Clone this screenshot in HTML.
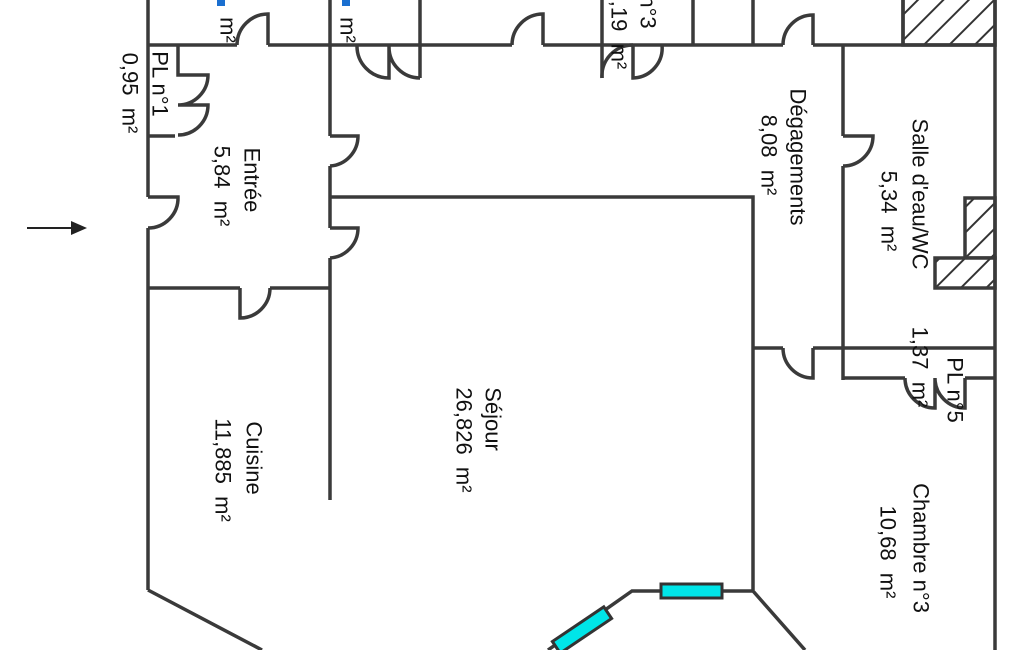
<!DOCTYPE html>
<html><head><meta charset="utf-8"><style>
html,body{margin:0;padding:0;background:#fff;}
svg{display:block}
text{font-family:"Liberation Sans",sans-serif;font-size:22px;fill:#111;dominant-baseline:central;text-anchor:middle;white-space:pre}
</style></head><body>
<svg width="1025" height="650" viewBox="0 0 1025 650" xmlns="http://www.w3.org/2000/svg">
<defs>
<pattern id="h" width="18" height="18" patternUnits="userSpaceOnUse" patternTransform="rotate(45)">
<rect width="18" height="18" fill="#fff"/><line x1="0" y1="0" x2="0" y2="18" stroke="#333" stroke-width="4"/>
</pattern>
</defs>
<g fill="none" stroke="#3a3a3a" stroke-width="3.5">
<rect x="903" y="-2" width="92" height="47" fill="url(#h)"/>
<rect x="965" y="198" width="30" height="60" fill="url(#h)"/>
<rect x="935" y="258" width="60" height="30" fill="url(#h)"/>
<path d="M148,45 H237 M268,45 H512 M543,45 H783 M813,45 H995"/>
<path d="M237,45 A31,31 0 0 1 268,14 V45"/>
<path d="M512,45 A31,31 0 0 1 543,14 V45"/>
<path d="M783,45 A30,30 0 0 1 813,15 V45"/>
<path d="M148,0 V197 M148,228 V590"/>
<path d="M148,197 H178 A30,30 0 0 1 148,228"/>
<path d="M330,0 V136 M330,166 V228 M330,258 V500"/>
<path d="M330,136 H358 A30,30 0 0 1 330,166"/>
<path d="M330,228 H358 A30,30 0 0 1 330,258"/>
<path d="M420,0 V78 M602,0 V78 M693,0 V45 M753,0 V45 M903,0 V45 M995,0 V650"/>
<path d="M357,45 A32,32 0 0 0 389,78 V45 M420,78 A31,31 0 0 1 389,47"/>
<path d="M602,78 A31,31 0 0 1 633,45 M633,45 V78 A30,30 0 0 0 662,45"/>
<path d="M178,45 V75 H208 A30,30 0 0 1 178,105 M178,105 H208 A30,30 0 0 1 178,135 M148,136 H175"/>
<path d="M330,197 H753 V590"/>
<path d="M148,288 H240 M270,288 H330"/>
<path d="M240,288 V318 A30,30 0 0 0 270,288"/>
<path d="M843,45 V136 M843,166 V380"/>
<path d="M843,136 H873 A30,30 0 0 1 843,166"/>
<path d="M753,348 H783 M813,348 H995"/>
<path d="M783,348 A30,30 0 0 0 813,378 V348"/>
<path d="M843,378 H905 M965,378 H995"/>
<path d="M905,378 A30,30 0 0 0 935,408 V378 M965,378 V408 A30,30 0 0 1 935,378"/>
<path d="M148,590 L262,650"/>
<path d="M548,650 L632,591 H753 L805,650"/>
</g>
<rect x="661" y="584" width="61" height="14" fill="#00e5e8" stroke="#333" stroke-width="3"/>
<rect x="0" y="-7" width="62" height="14" fill="#00e5e8" stroke="#333" stroke-width="3" transform="translate(582,630) rotate(-34) translate(-31,0)"/>
<line x1="27" y1="228" x2="74" y2="228" stroke="#222" stroke-width="2"/>
<polygon points="87,228 71,221 71,235" fill="#222"/>
<g>
<text transform="translate(252,180) rotate(90)">Entrée</text>
<text transform="translate(222,186) rotate(90)">5,84  m²</text>
<text transform="translate(130,93) rotate(90)">0,95  m²</text>
<text transform="translate(160,84) rotate(90)">PL n°1</text>
<text transform="translate(798,157) rotate(90)">Dégagements</text>
<text transform="translate(769,155) rotate(90)">8,08  m²</text>
<text transform="translate(920,194) rotate(90)">Salle d'eau/WC</text>
<text transform="translate(889,211) rotate(90)">5,34  m²</text>
<text transform="translate(920,367) rotate(90)">1,37  m²</text>
<text transform="translate(955,390) rotate(90)">PL n°5</text>
<text transform="translate(493,419) rotate(90)">Séjour</text>
<text transform="translate(464,440) rotate(90)">26,826  m²</text>
<text transform="translate(254,458) rotate(90)">Cuisine</text>
<text transform="translate(223,470) rotate(90)">11,885  m²</text>
<text transform="translate(921,548) rotate(90)">Chambre n°3</text>
<text transform="translate(888,552) rotate(90)">10,68  m²</text>
<text transform="translate(648,12) rotate(90)">n°3</text>
<text transform="translate(619,35) rotate(90)">,19  m²</text>
<text transform="translate(228,30) rotate(90)">m²</text>
<text transform="translate(348,30) rotate(90)">m²</text>
</g>
<rect x="217" y="0" width="8" height="6" fill="#1a6fd0"/>
<rect x="342" y="0" width="8" height="6" fill="#1a6fd0"/>
</svg>
</body></html>
